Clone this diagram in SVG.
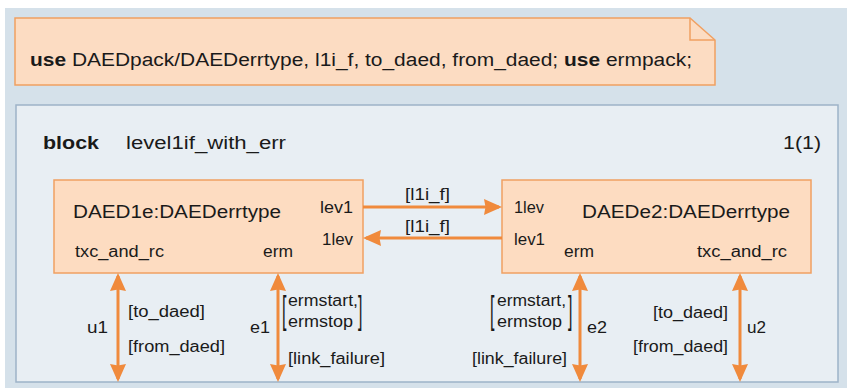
<svg xmlns="http://www.w3.org/2000/svg" width="847" height="388" viewBox="0 0 847 388">
<defs>
<style>
.t{font-family:"Liberation Sans",Arial,sans-serif;font-size:16px;fill:#1a1a1a}
.b{font-size:18px}
.bold{font-weight:bold}
.node{fill:#fddcc1;stroke:#f0a062;stroke-width:1.5}
.conn{stroke:#f08a3c;stroke-width:3;fill:none;marker-end:url(#ah)}
.dbl{marker-start:url(#ah)}
</style>
<marker id="ah" viewBox="0 0 18 16" refX="15" refY="8" markerWidth="18" markerHeight="16" markerUnits="userSpaceOnUse" orient="auto-start-reverse">
<path d="M0,0 L18,8 L0,16 L1.5,8 z" fill="#f08a3c"/>
</marker>
</defs>
<rect x="5" y="8" width="842" height="380" fill="#d5e1ea"/>
<g id="note">
<path d="M15,18 L690,18 L715,40 L715,85 L15,85 Z" fill="#fcdcc2" stroke="#f0a062" stroke-width="1.5"/>
<path d="M690,18 L690,40 L715,40" fill="none" stroke="#f0a062" stroke-width="1.5"/>
<text class="t b" x="30" y="66" textLength="662" lengthAdjust="spacingAndGlyphs"><tspan class="bold">use</tspan> DAEDpack/DAEDerrtype, l1i_f, to_daed, from_daed; <tspan class="bold">use</tspan> ermpack;</text>
</g>
<g id="block">
<rect x="16" y="105" width="822" height="277" fill="#e8eef3" stroke="#9db3c8" stroke-width="1.5"/>
<text class="t b bold" x="43" y="149" textLength="56" lengthAdjust="spacingAndGlyphs">block</text>
<text class="t b" x="126" y="149" textLength="160" lengthAdjust="spacingAndGlyphs">level1if_with_err</text>
<text class="t b" x="783" y="149" textLength="38" lengthAdjust="spacingAndGlyphs">1(1)</text>
</g>
<g id="DAED1e">
<rect class="node" x="54" y="180" width="309" height="93"/>
<text class="t b" x="73" y="218" textLength="208" lengthAdjust="spacingAndGlyphs">DAED1e:DAEDerrtype</text>
<text class="t" x="320" y="213" textLength="33" lengthAdjust="spacingAndGlyphs">lev1</text>
<text class="t" x="322" y="245" textLength="31" lengthAdjust="spacingAndGlyphs">1lev</text>
<text class="t" x="75" y="257" textLength="89" lengthAdjust="spacingAndGlyphs">txc_and_rc</text>
<text class="t" x="263" y="257" textLength="30" lengthAdjust="spacingAndGlyphs">erm</text>
</g>
<g id="DAEDe2">
<rect class="node" x="502" y="180" width="309" height="93"/>
<text class="t" x="514" y="213" textLength="30" lengthAdjust="spacingAndGlyphs">1lev</text>
<text class="t b" x="582" y="218" textLength="208" lengthAdjust="spacingAndGlyphs">DAEDe2:DAEDerrtype</text>
<text class="t" x="514" y="245" textLength="31" lengthAdjust="spacingAndGlyphs">lev1</text>
<text class="t" x="564" y="257" textLength="30" lengthAdjust="spacingAndGlyphs">erm</text>
<text class="t" x="697" y="257" textLength="90" lengthAdjust="spacingAndGlyphs">txc_and_rc</text>
</g>
<g id="connectors">
<line class="conn" x1="363" y1="207" x2="499" y2="207"/>
<line class="conn" x1="502" y1="238" x2="366" y2="238"/>
<line class="conn dbl" x1="118" y1="276" x2="118" y2="379"/>
<line class="conn dbl" x1="278" y1="276" x2="278" y2="379"/>
<line class="conn dbl" x1="580" y1="276" x2="580" y2="379"/>
<line class="conn dbl" x1="740" y1="276" x2="740" y2="379"/>
<text class="t" x="405" y="200" textLength="45" lengthAdjust="spacingAndGlyphs">[l1i_f]</text>
<text class="t" x="405" y="232" textLength="45" lengthAdjust="spacingAndGlyphs">[l1i_f]</text>
<text class="t" x="87" y="333" textLength="21" lengthAdjust="spacingAndGlyphs">u1</text>
<text class="t" x="128" y="317" textLength="77" lengthAdjust="spacingAndGlyphs">[to_daed]</text>
<text class="t" x="128" y="352" textLength="97" lengthAdjust="spacingAndGlyphs">[from_daed]</text>
<text class="t" x="250" y="333" textLength="20" lengthAdjust="spacingAndGlyphs">e1</text>
<text class="t" transform="translate(282,323) scale(1,2.4)">[</text>
<text class="t" x="288" y="306" textLength="70" lengthAdjust="spacingAndGlyphs">ermstart,</text>
<text class="t" x="288" y="327" textLength="65" lengthAdjust="spacingAndGlyphs">ermstop</text>
<text class="t" transform="translate(358,323) scale(1,2.4)">]</text>
<text class="t" x="288" y="364" textLength="97" lengthAdjust="spacingAndGlyphs">[link_failure]</text>
<text class="t" transform="translate(490,323) scale(1,2.4)">[</text>
<text class="t" x="497" y="306" textLength="69" lengthAdjust="spacingAndGlyphs">ermstart,</text>
<text class="t" x="497" y="327" textLength="65" lengthAdjust="spacingAndGlyphs">ermstop</text>
<text class="t" transform="translate(568,323) scale(1,2.4)">]</text>
<text class="t" x="587" y="333" textLength="20" lengthAdjust="spacingAndGlyphs">e2</text>
<text class="t" x="472" y="364" textLength="95" lengthAdjust="spacingAndGlyphs">[link_failure]</text>
<text class="t" x="653" y="318" textLength="75" lengthAdjust="spacingAndGlyphs">[to_daed]</text>
<text class="t" x="633" y="352" textLength="95" lengthAdjust="spacingAndGlyphs">[from_daed]</text>
<text class="t" x="747" y="333" textLength="19" lengthAdjust="spacingAndGlyphs">u2</text>
</g>
</svg>
